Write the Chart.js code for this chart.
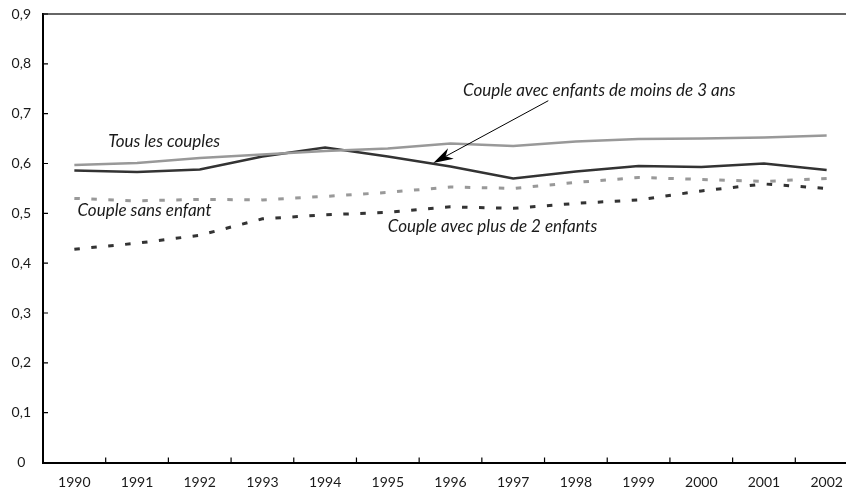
<!DOCTYPE html>
<html>
<head>
<meta charset="utf-8">
<script src="https://cdn.jsdelivr.net/npm/chart.js@4"></script>
<style>
  html, body { margin: 0; padding: 0; background: #fff; overflow: hidden; }
  #wrap { width: 846px; height: 492px; overflow: hidden; }
</style>
</head>
<body>
<div id="wrap"><canvas id="c" width="858" height="492"></canvas></div>
<script>
// data
const years = ['1990', '1991', '1992', '1993', '1994', '1995', '1996', '1997', '1998', '1999', '2000', '2001', '2002'];
const tousLesCouples = [0.597, 0.601, 0.611, 0.618, 0.625, 0.630, 0.640, 0.635, 0.644, 0.649, 0.650, 0.652, 0.656];
const moinsDe3Ans = [0.586, 0.583, 0.588, 0.614, 0.632, 0.614, 0.594, 0.570, 0.584, 0.595, 0.593, 0.600, 0.587];
const sansEnfant = [0.530, 0.525, 0.528, 0.527, 0.534, 0.542, 0.553, 0.550, 0.562, 0.572, 0.568, 0.564, 0.570];
const plusDe2Enfants = [0.428, 0.440, 0.456, 0.489, 0.497, 0.502, 0.513, 0.510, 0.520, 0.527, 0.545, 0.559, 0.550];
const yTicks = [0, 0.1, 0.2, 0.3, 0.4, 0.5, 0.6, 0.7, 0.8, 0.9];
const yTickLabels = ['0', '0,1', '0,2', '0,3', '0,4', '0,5', '0,6', '0,7', '0,8', '0,9'];

// labels placed in data units (category index, value)
const notes = [
  { text: 'Tous les couples', x: 0.54, y: 0.645 },
  { text: 'Couple sans enfant', x: 0.05, y: 0.505 },
  { text: 'Couple avec plus de 2 enfants', x: 5.0, y: 0.473 },
  { text: 'Couple avec enfants de moins de 3 ans', x: 6.2, y: 0.746 }
];
const arrow = { from: [7.56, 0.726], to: [5.726, 0.601] };

const GREY = '#999999';
const DARK = '#333333';

const frame = {
  id: 'frame',
  afterDraw(chart) {
    const { ctx, chartArea: a, scales: { x, y } } = chart;
    ctx.save();
    // top line
    ctx.strokeStyle = '#333';
    ctx.lineWidth = 1.5;
    ctx.beginPath();
    ctx.moveTo(a.left, a.top);
    ctx.lineTo(chart.width, a.top);
    ctx.stroke();
    // inward tick marks
    ctx.strokeStyle = '#000';
    ctx.lineWidth = 1.2;
    ctx.beginPath();
    yTicks.forEach(v => {
      const py = y.getPixelForValue(v);
      ctx.moveTo(a.left, py);
      ctx.lineTo(a.left + 5, py);
    });
    for (let i = 1; i < years.length; i++) {
      const px = x.getPixelForValue(i - 0.5);
      ctx.moveTo(px, a.bottom);
      ctx.lineTo(px, a.bottom - 5);
    }
    ctx.stroke();

    // labels
    ctx.fillStyle = '#1a1a1a';
    ctx.font = 'italic 17px Lato';
    ctx.textBaseline = 'middle';
    ctx.textAlign = 'left';
    notes.forEach(n => {
      ctx.fillText(n.text, x.getPixelForValue(n.x), y.getPixelForValue(n.y));
    });

    // arrow
    const x0 = x.getPixelForValue(arrow.from[0]), y0 = y.getPixelForValue(arrow.from[1]);
    const x1 = x.getPixelForValue(arrow.to[0]), y1 = y.getPixelForValue(arrow.to[1]);
    const ang = Math.atan2(y1 - y0, x1 - x0);
    const len = 20, half = 6, notch = 14;
    ctx.strokeStyle = '#000';
    ctx.lineWidth = 1;
    ctx.beginPath();
    ctx.moveTo(x0, y0);
    ctx.lineTo(x1 - Math.cos(ang) * notch, y1 - Math.sin(ang) * notch);
    ctx.stroke();
    ctx.translate(x1, y1);
    ctx.rotate(ang);
    ctx.fillStyle = '#000';
    ctx.beginPath();
    ctx.moveTo(0, 0);
    ctx.lineTo(-len, -half);
    ctx.lineTo(-notch, 0);
    ctx.lineTo(-len, half);
    ctx.closePath();
    ctx.fill();
    ctx.restore();
  }
};

new Chart(document.getElementById('c'), {
  type: 'line',
  data: {
    labels: years,
    datasets: [
      { label: 'Tous les couples', data: tousLesCouples, borderColor: GREY, borderWidth: 2.5 },
      { label: 'Couple avec enfants de moins de 3 ans', data: moinsDe3Ans, borderColor: DARK, borderWidth: 2.5 },
      { label: 'Couple sans enfant', data: sansEnfant, borderColor: GREY, borderWidth: 3, borderDash: [5.5, 11.5] },
      { label: 'Couple avec plus de 2 enfants', data: plusDe2Enfants, borderColor: DARK, borderWidth: 3, borderDash: [5.5, 11.5] }
    ]
  },
  options: {
    responsive: false,
    animation: false,
    layout: { padding: 0 },
    elements: { point: { radius: 0 }, line: { tension: 0, fill: false } },
    plugins: { legend: { display: false }, tooltip: { enabled: false } },
    scales: {
      x: {
        offset: true,
        grid: { display: false, drawTicks: false, tickLength: 0 },
        border: { display: true, color: '#000', width: 2 },
        ticks: { color: '#1a1a1a', font: { family: 'Lato', size: 14 }, padding: 12, maxRotation: 0, autoSkip: false },
        afterFit: s => { s.height = 29.5; s.paddingLeft = 0; s.paddingRight = 0; }
      },
      y: {
        min: 0, max: 0.9,
        afterBuildTicks: s => { s.ticks = yTicks.map(v => ({ value: v })); },
        grid: { display: false, drawTicks: false, tickLength: 0 },
        border: { display: true, color: '#000', width: 2 },
        ticks: {
          color: '#1a1a1a', font: { family: 'Lato', size: 14 }, padding: 12, crossAlign: 'center',
          callback: (v, i) => yTickLabels[i]
        },
        afterFit: s => { s.width = 43; s.paddingTop = 14; s.paddingBottom = 0; }
      }
    }
  },
  plugins: [frame]
});
</script>
</body>
</html>
